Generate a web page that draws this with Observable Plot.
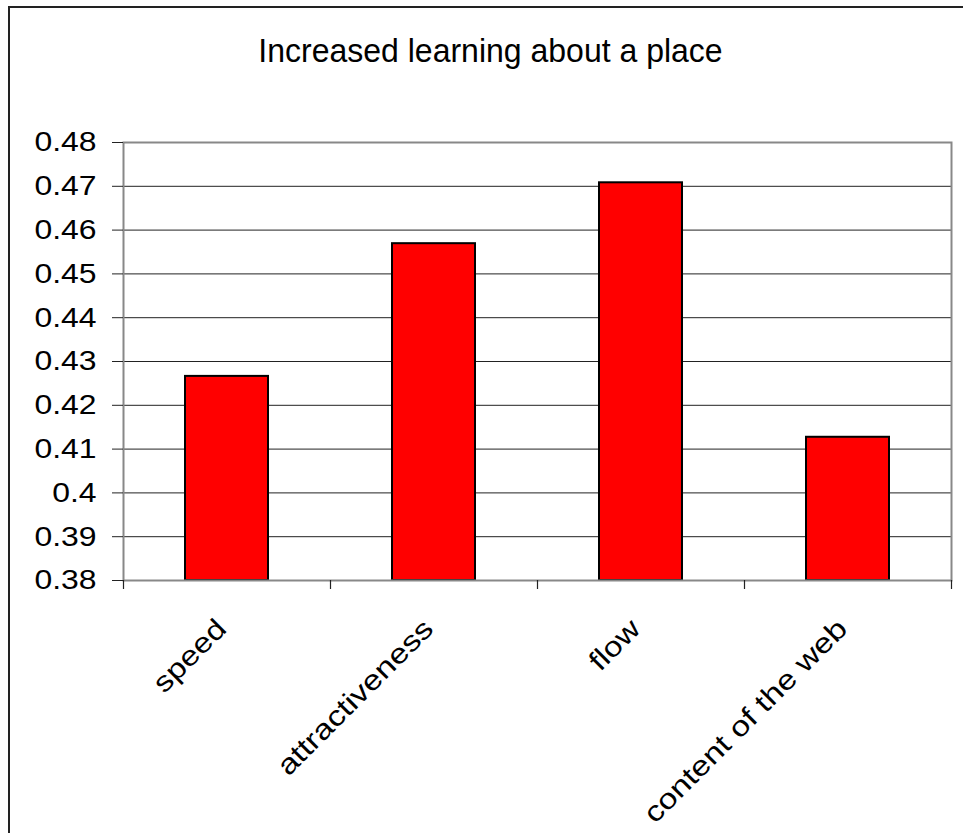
<!DOCTYPE html>
<html><head><meta charset="utf-8">
<script src="https://cdn.jsdelivr.net/npm/d3@7"></script>
<script src="https://cdn.jsdelivr.net/npm/@observablehq/plot@0.6"></script>
<style>
body{margin:0;background:#fff;overflow:hidden;}
#wrap{position:relative;width:963px;height:833px;overflow:hidden;font-family:"Liberation Sans",Arial,sans-serif;}
#border{position:absolute;left:8px;top:6px;width:1000px;height:900px;border:2px solid #222;box-sizing:border-box;}
#title{position:absolute;left:0;width:981px;top:35px;line-height:32px;text-align:center;font-size:32px;color:#000;transform:scaleY(1.06);transform-origin:50% 27px;}
#chart{position:absolute;left:0;top:0;}
</style></head>
<body><div id="wrap"><div id="border"></div><div id="title">Increased learning about a place</div><div id="chart"></div></div>
<script>
const categories = ["speed", "attractiveness", "flow", "content of the web"];
const values = [0.4266, 0.4569, 0.4708, 0.4127];
const yTicks = [0.38, 0.39, 0.40, 0.41, 0.42, 0.43, 0.44, 0.45, 0.46, 0.47, 0.48];
const yDomain = [0.38, 0.48];
const data = categories.map((c, i) => ({cat: c, value: values[i]}));

const W = 963, H = 833, ml = 123, mr = 12, mt = 142, mb = 253;
const step = (W - ml - mr) / categories.length;

const plot = Plot.plot({
  width: W, height: H, marginLeft: ml, marginRight: mr, marginTop: mt, marginBottom: mb,
  style: {fontFamily: "Liberation Sans, Arial, sans-serif", fontSize: "28px", color: "#000", background: "transparent", overflow: "visible"},
  x: {domain: categories, paddingInner: 0.6, paddingOuter: 0.3, label: null},
  y: {domain: yDomain, label: null},
  marks: [
    Plot.ruleY(yTicks, {stroke: "#222", strokeWidth: 1}),
    Plot.barY(data, {x: "cat", y1: () => yDomain[0], y2: "value", fill: "#ff0000", stroke: "#000", strokeWidth: 2}),
    Plot.frame({stroke: "#888", strokeWidth: 2}),
    Plot.ruleX(categories, {x: d => d, dx: -step / 2, y1: () => yDomain[0], y2: () => yDomain[0], insetBottom: -9, stroke: "#222", strokeWidth: 1.2}),
    Plot.ruleX(categories.slice(-1), {x: d => d, dx: step / 2, y1: () => yDomain[0], y2: () => yDomain[0], insetBottom: -9, stroke: "#222", strokeWidth: 1.2}),
    Plot.axisY({ticks: yTicks, tickFormat: d => String(+d.toFixed(2)), tickSize: 11, tickPadding: 16, stroke: "#222", label: null}),
    Plot.axisX({tickSize: 0, tickPadding: 0, tickRotate: -45, textAnchor: "end", lineAnchor: "bottom", dx: 1, dy: 50, label: null})
  ]
});
document.getElementById("chart").appendChild(plot);
const stretch = 1.14;
plot.querySelectorAll('g[aria-label="y-axis tick label"] text').forEach(t => {
  const len = t.getComputedTextLength();
  t.setAttribute("textLength", len * stretch);
  t.setAttribute("lengthAdjust", "spacingAndGlyphs");
});
plot.querySelectorAll('g[aria-label="x-axis tick label"] text').forEach(t => {
  const len = t.getComputedTextLength();
  const n = t.textContent.length;
  t.setAttribute("textLength", len * stretch + (n - 1) * 0.8);
  t.setAttribute("lengthAdjust", "spacingAndGlyphs");
});
</script>
</body></html>
